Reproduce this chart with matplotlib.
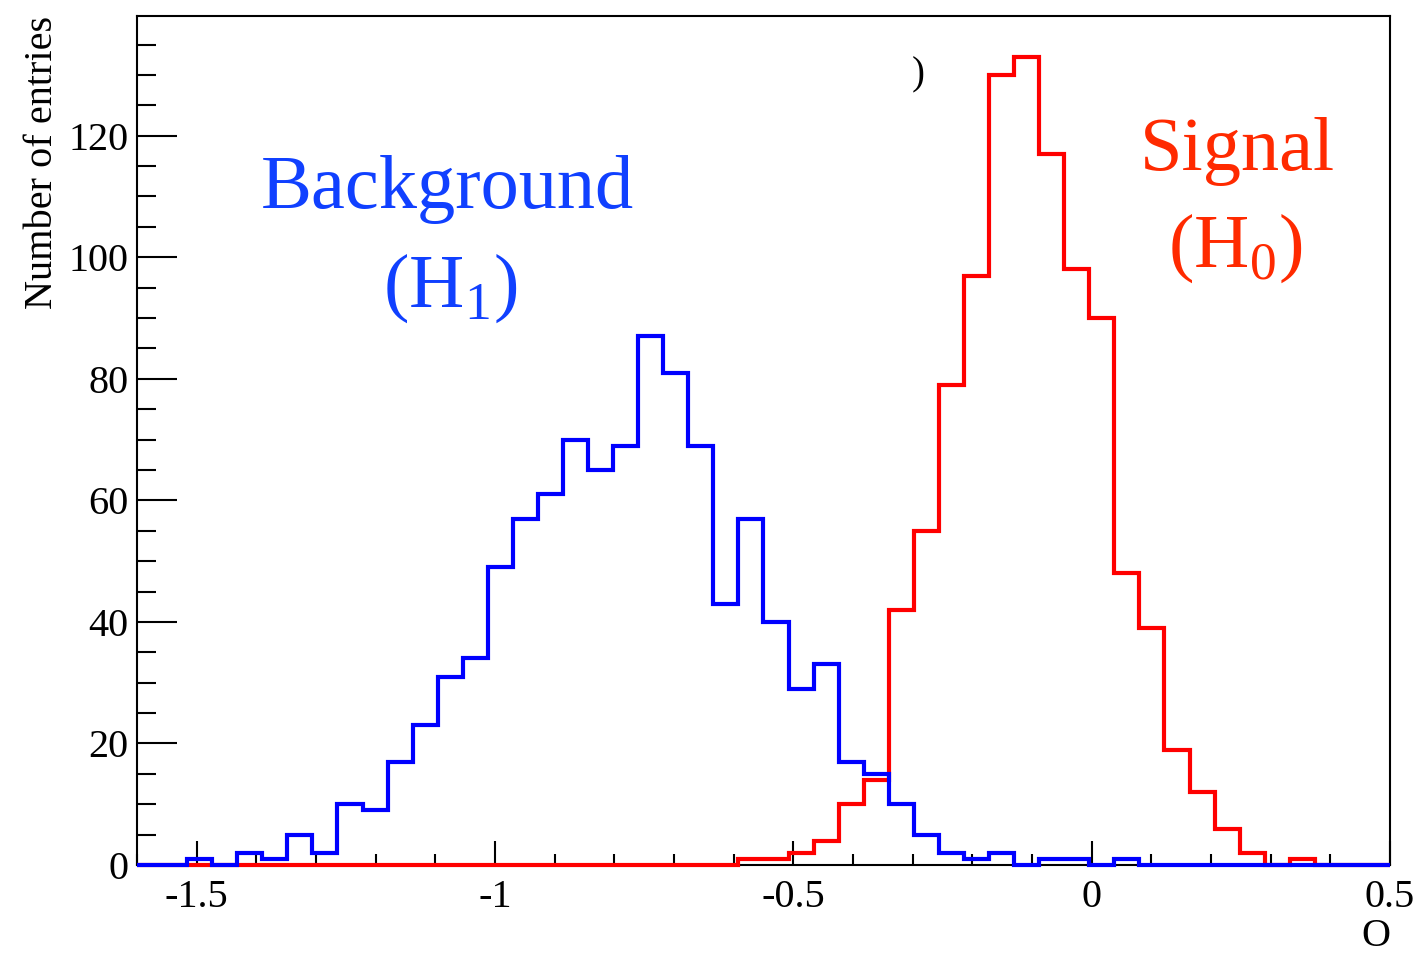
import matplotlib
matplotlib.use("Agg")
import matplotlib.pyplot as plt
from matplotlib.ticker import MultipleLocator
import numpy as np

# histogram binning: 50 bins between -1.6 and 0.5
x_min, x_max, n_bins = -1.6, 0.5, 50

background = [0, 0, 1, 0, 2, 1, 5, 2, 10, 9,
              17, 23, 31, 34, 49, 57, 61, 70, 65, 69,
              87, 81, 69, 43, 57, 40, 29, 33, 17, 15,
              10, 5, 2, 1, 2, 0, 1, 1, 0, 1,
              0, 0, 0, 0, 0, 0, 0, 0, 0, 0]
signal = [0, 0, 0, 0, 0, 0, 0, 0, 0, 0,
          0, 0, 0, 0, 0, 0, 0, 0, 0, 0,
          0, 0, 0, 0, 1, 1, 2, 4, 10, 14,
          42, 55, 79, 97, 130, 133, 117, 98, 90, 48,
          39, 19, 12, 6, 2, 0, 1, 0, 0, 0]

xticks = [-1.5, -1.0, -0.5, 0.0, 0.5]
xtick_labels = ["-1.5", "-1", "-0.5", "0", "0.5"]
yticks = [0, 20, 40, 60, 80, 100, 120]
ytick_labels = ["0", "20", "40", "60", "80", "100", "120"]

plt.rcParams['font.family'] = ['Liberation Serif', 'DejaVu Serif']
plt.rcParams['mathtext.fontset'] = 'custom'
plt.rcParams['mathtext.rm'] = 'Liberation Serif'
plt.rcParams['axes.unicode_minus'] = False

edges = np.linspace(x_min, x_max, n_bins + 1)

fig = plt.figure(figsize=(14.21, 9.56), dpi=100)
ax = fig.add_axes([137/1421, 1 - 865/956, (1390-137)/1421, (865-16)/956])

ax.stairs(signal, edges, color='#ff0000', linewidth=3.0, baseline=0, clip_on=False, zorder=3)
ax.stairs(background, edges, color='#0000ff', linewidth=3.0, baseline=0, clip_on=False, zorder=4)

ax.set_xlim(x_min, x_max)
ax.set_ylim(0, 139.7)

ax.set_xticks(xticks, xtick_labels)
ax.set_yticks(yticks, ytick_labels)
ax.xaxis.set_minor_locator(MultipleLocator(0.1))
ax.yaxis.set_minor_locator(MultipleLocator(5))

ax.tick_params(axis='y', which='major', direction='in', length=29, width=1.5, labelsize=29, pad=6)
ax.tick_params(axis='y', which='minor', direction='in', length=14, width=1.5)
ax.tick_params(axis='x', which='major', direction='in', length=17, width=1.5, labelsize=29, pad=10)
ax.tick_params(axis='x', which='minor', direction='in', length=8, width=1.5)
for s in ax.spines.values():
    s.set_linewidth(1.5)

ax.set_xlabel('O', loc='right', fontsize=29, va='baseline')
ax.xaxis.set_label_coords(1.0, -0.0954)
ax.set_ylabel('Number of entries', loc='top', fontsize=29)
ax.yaxis.set_label_coords(-0.0607, 1.0)

ax.text(-1.079, 108.1, 'Background', color='#1040ff', fontsize=55, ha='center', va='baseline')
ax.text(-1.075, 91.8, r'(H$_\mathrm{1}$)', color='#1040ff', fontsize=55, ha='center', va='baseline')
ax.text(0.2435, 114.3, 'Signal', color='#ff2a00', fontsize=55, ha='center', va='baseline')
ax.text(0.240, 98.4, r'(H$_\mathrm{0}$)', color='#ff2a00', fontsize=55, ha='center', va='baseline')
ax.text(-0.291, 130, ')', color='black', fontsize=28, ha='center', va='center')

fig.savefig('out.png', dpi=100)
